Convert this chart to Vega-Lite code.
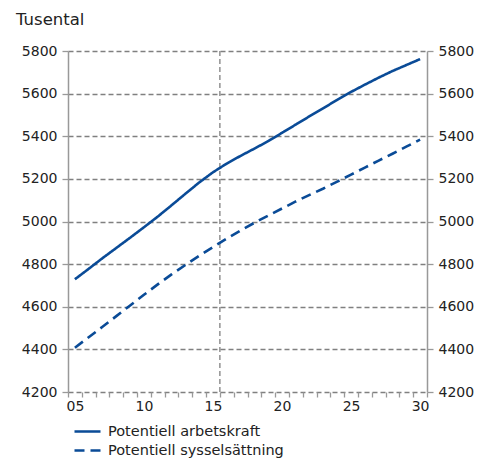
{
  "$schema": "https://vega.github.io/schema/vega-lite/v6.json",
  "width": 359,
  "height": 341,
  "autosize": {"type": "none"},
  "padding": {"left": 68, "top": 51, "right": 62, "bottom": 67},
  "background": "white",
  "title": {"text": "Tusental", "anchor": "start", "frame": "group", "dx": -52, "offset": 16, "fontSize": 16.5, "fontWeight": "normal", "color": "#222222", "font": "DejaVu Sans"},
  "config": {
    "font": "DejaVu Sans",
    "view": {"stroke": null},
    "axis": {"labelFontSize": 14, "labelColor": "#222222", "labelFont": "DejaVu Sans", "tickColor": "#999999", "domainColor": "#999999", "tickWidth": 1.3, "domainWidth": 1.5}
  },
  "datasets": {
    "series": [
      {"year": 2005.5, "value": 4729, "series": "Potentiell arbetskraft"},
      {"year": 2006.5, "value": 4778, "series": "Potentiell arbetskraft"},
      {"year": 2007.5, "value": 4828, "series": "Potentiell arbetskraft"},
      {"year": 2008.5, "value": 4876, "series": "Potentiell arbetskraft"},
      {"year": 2009.5, "value": 4924, "series": "Potentiell arbetskraft"},
      {"year": 2010.5, "value": 4973, "series": "Potentiell arbetskraft"},
      {"year": 2011.5, "value": 5023, "series": "Potentiell arbetskraft"},
      {"year": 2012.5, "value": 5076, "series": "Potentiell arbetskraft"},
      {"year": 2013.5, "value": 5130, "series": "Potentiell arbetskraft"},
      {"year": 2014.5, "value": 5183, "series": "Potentiell arbetskraft"},
      {"year": 2015.5, "value": 5231, "series": "Potentiell arbetskraft"},
      {"year": 2016.5, "value": 5272, "series": "Potentiell arbetskraft"},
      {"year": 2017.5, "value": 5308, "series": "Potentiell arbetskraft"},
      {"year": 2018.5, "value": 5342, "series": "Potentiell arbetskraft"},
      {"year": 2019.5, "value": 5377, "series": "Potentiell arbetskraft"},
      {"year": 2020.5, "value": 5416, "series": "Potentiell arbetskraft"},
      {"year": 2021.5, "value": 5455, "series": "Potentiell arbetskraft"},
      {"year": 2022.5, "value": 5494, "series": "Potentiell arbetskraft"},
      {"year": 2023.5, "value": 5532, "series": "Potentiell arbetskraft"},
      {"year": 2024.5, "value": 5571, "series": "Potentiell arbetskraft"},
      {"year": 2025.5, "value": 5608, "series": "Potentiell arbetskraft"},
      {"year": 2026.5, "value": 5642, "series": "Potentiell arbetskraft"},
      {"year": 2027.5, "value": 5675, "series": "Potentiell arbetskraft"},
      {"year": 2028.5, "value": 5706, "series": "Potentiell arbetskraft"},
      {"year": 2029.5, "value": 5734, "series": "Potentiell arbetskraft"},
      {"year": 2030.5, "value": 5762, "series": "Potentiell arbetskraft"},
      {"year": 2005.5, "value": 4408, "series": "Potentiell sysselsättning"},
      {"year": 2006.5, "value": 4457, "series": "Potentiell sysselsättning"},
      {"year": 2007.5, "value": 4506, "series": "Potentiell sysselsättning"},
      {"year": 2008.5, "value": 4556, "series": "Potentiell sysselsättning"},
      {"year": 2009.5, "value": 4606, "series": "Potentiell sysselsättning"},
      {"year": 2010.5, "value": 4656, "series": "Potentiell sysselsättning"},
      {"year": 2011.5, "value": 4705, "series": "Potentiell sysselsättning"},
      {"year": 2012.5, "value": 4752, "series": "Potentiell sysselsättning"},
      {"year": 2013.5, "value": 4796, "series": "Potentiell sysselsättning"},
      {"year": 2014.5, "value": 4839, "series": "Potentiell sysselsättning"},
      {"year": 2015.5, "value": 4880, "series": "Potentiell sysselsättning"},
      {"year": 2016.5, "value": 4920, "series": "Potentiell sysselsättning"},
      {"year": 2017.5, "value": 4958, "series": "Potentiell sysselsättning"},
      {"year": 2018.5, "value": 4994, "series": "Potentiell sysselsättning"},
      {"year": 2019.5, "value": 5028, "series": "Potentiell sysselsättning"},
      {"year": 2020.5, "value": 5061, "series": "Potentiell sysselsättning"},
      {"year": 2021.5, "value": 5094, "series": "Potentiell sysselsättning"},
      {"year": 2022.5, "value": 5125, "series": "Potentiell sysselsättning"},
      {"year": 2023.5, "value": 5155, "series": "Potentiell sysselsättning"},
      {"year": 2024.5, "value": 5187, "series": "Potentiell sysselsättning"},
      {"year": 2025.5, "value": 5220, "series": "Potentiell sysselsättning"},
      {"year": 2026.5, "value": 5253, "series": "Potentiell sysselsättning"},
      {"year": 2027.5, "value": 5286, "series": "Potentiell sysselsättning"},
      {"year": 2028.5, "value": 5318, "series": "Potentiell sysselsättning"},
      {"year": 2029.5, "value": 5351, "series": "Potentiell sysselsättning"},
      {"year": 2030.5, "value": 5384, "series": "Potentiell sysselsättning"}
    ],
    "marker": [{"year": 2016}]
  },
  "encoding": {
    "x": {
      "field": "year", "type": "quantitative",
      "scale": {"domain": [2005, 2031], "nice": false, "zero": false},
      "axis": {
        "title": null, "grid": false, "domain": false,
        "values": [2005,2006,2007,2008,2009,2010,2011,2012,2013,2014,2015,2016,2017,2018,2019,2020,2021,2022,2023,2024,2025,2026,2027,2028,2029,2030,2031],
        "labelExpr": "datum.value % 5 === 0 && datum.value < 2031 ? (datum.value < 2010 ? '0' + (datum.value - 2000) : '' + (datum.value - 2000)) : ''",
        "labelOffset": 6.9, "labelOverlap": false, "labelFlush": false, "labelBound": false,
        "tickSize": 5, "labelPadding": 2
      }
    }
  },
  "layer": [
    {
      "data": {"name": "marker"},
      "mark": {"type": "rule", "color": "#808080", "strokeWidth": 1.3, "strokeDash": [5, 3]},
      "encoding": {}
    },
    {
      "data": {"name": "series"},
      "mark": {"type": "line", "strokeWidth": 2.6},
      "encoding": {
        "y": {
          "field": "value", "type": "quantitative",
          "scale": {"domain": [4200, 5800], "nice": false, "zero": false},
          "axis": {"orient": "left", "title": null, "format": "d", "values": [4200,4400,4600,4800,5000,5200,5400,5600,5800], "grid": true, "gridColor": "#808080", "gridDash": [5, 3], "gridWidth": 1.3, "tickSize": 6, "labelPadding": 5}
        },
        "color": {
          "field": "series", "type": "nominal",
          "scale": {"domain": ["Potentiell arbetskraft", "Potentiell sysselsättning"], "range": ["#0a4b97", "#0a4b97"]},
          "legend": {
            "title": null, "orient": "none", "legendX": 5, "legendY": 371, "padding": 0,
            "symbolType": "stroke", "symbolSize": 676, "symbolStrokeWidth": 2.6,
            "labelFontSize": 14.5, "labelColor": "#222222", "labelFont": "DejaVu Sans", "labelOffset": 6, "labelLimit": 400,
            "clipHeight": 19, "rowPadding": 0
          }
        },
        "strokeDash": {
          "field": "series", "type": "nominal",
          "scale": {"domain": ["Potentiell arbetskraft", "Potentiell sysselsättning"], "range": [[1, 0], [10, 6]]},
          "legend": {
            "title": null, "orient": "none", "legendX": 5, "legendY": 371, "padding": 0,
            "symbolType": "stroke", "symbolSize": 676, "symbolStrokeWidth": 2.6,
            "labelFontSize": 14.5, "labelColor": "#222222", "labelFont": "DejaVu Sans", "labelOffset": 6, "labelLimit": 400,
            "clipHeight": 19, "rowPadding": 0
          }
        }
      }
    },
    {
      "data": {"name": "series"},
      "mark": {"type": "line", "opacity": 0},
      "encoding": {
        "y": {
          "field": "value", "type": "quantitative",
          "scale": {"domain": [4200, 5800], "nice": false, "zero": false},
          "axis": {"orient": "right", "title": null, "format": "d", "values": [4200,4400,4600,4800,5000,5200,5400,5600,5800], "grid": false, "tickSize": 6, "labelPadding": 5}
        },
        "detail": {"field": "series", "type": "nominal"}
      }
    }
  ],
  "resolve": {"axis": {"y": "independent"}, "scale": {"y": "shared"}}
}
